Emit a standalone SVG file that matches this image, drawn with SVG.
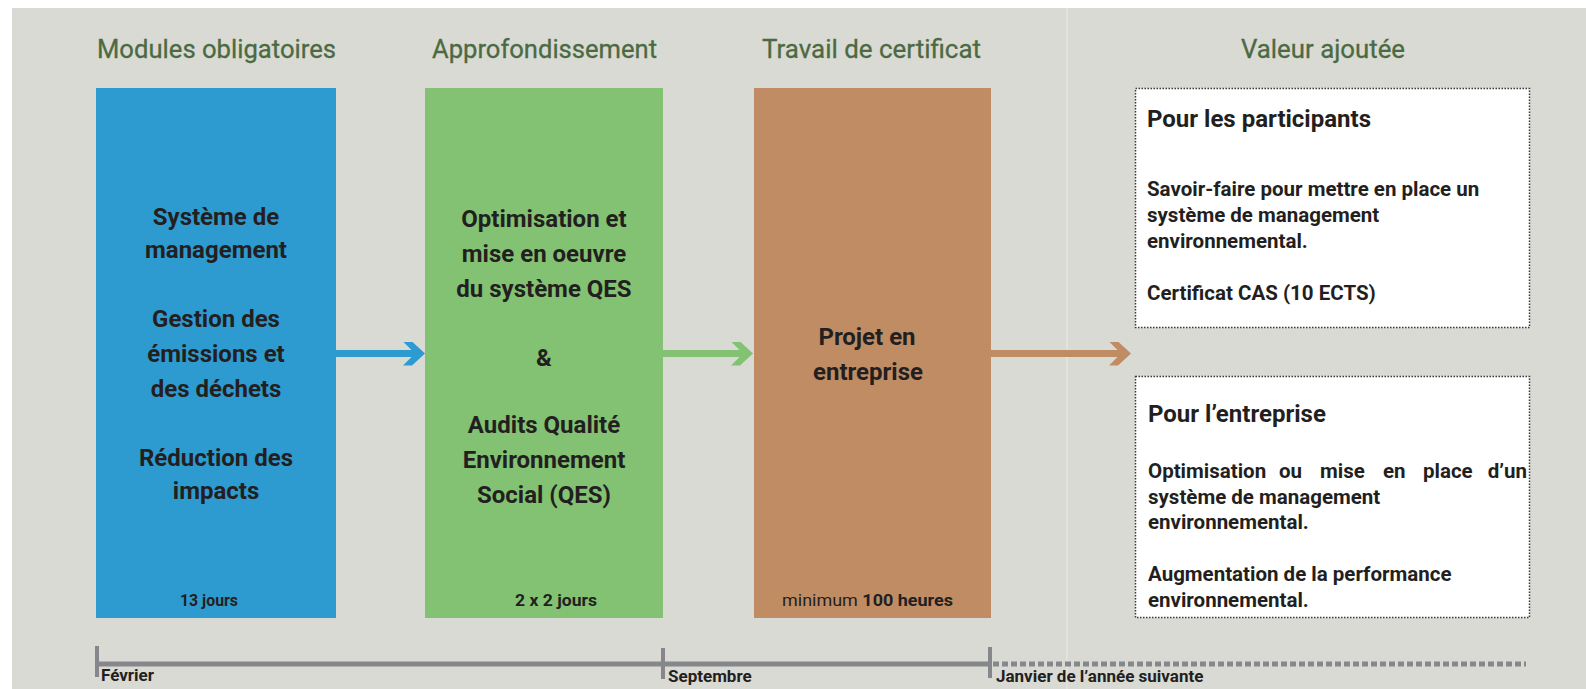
<svg xmlns="http://www.w3.org/2000/svg" width="1586" height="689" viewBox="0 0 1586 689">
<style>
  .head { font-family: Roboto, "Liberation Sans", sans-serif; font-size: 26px; fill: #4c6a42; text-anchor: middle; stroke: #4c6a42; stroke-width: 0.3; }
  .bt { font-family: Roboto, "Liberation Sans", sans-serif; font-size: 24px; font-weight: bold; fill: #231f20; text-anchor: middle; }
  .small { font-family: Roboto, "Liberation Sans", sans-serif; font-size: 17px; font-weight: bold; fill: #231f20; }
  .ttl { font-family: Roboto, "Liberation Sans", sans-serif; font-size: 24px; font-weight: bold; fill: #231f20; }
  .body { font-family: Roboto, "Liberation Sans", sans-serif; font-size: 20.5px; font-weight: bold; fill: #231f20; }
  .wbox { fill: #ffffff; stroke: #3a3a3a; stroke-width: 1.5; stroke-dasharray: 1.5 1.5; }
  .shaft { fill: none; stroke-width: 7; }
  .tl { stroke: #86878b; fill: none; stroke-width: 5; }
</style>
<defs>
  <marker id="chev-blue" viewBox="0 0 22 24" refX="12" refY="12" markerWidth="22" markerHeight="24" markerUnits="userSpaceOnUse" orient="auto">
    <polygon points="0,0 9,0 22,12 9,24 0,24 12,12" fill="#2e9bd0"/>
  </marker>
  <marker id="chev-green" viewBox="0 0 22 24" refX="12" refY="12" markerWidth="22" markerHeight="24" markerUnits="userSpaceOnUse" orient="auto">
    <polygon points="0,0 9,0 22,12 9,24 0,24 12,12" fill="#82c272"/>
  </marker>
  <marker id="chev-brown" viewBox="0 0 22 24" refX="12" refY="12" markerWidth="22" markerHeight="24" markerUnits="userSpaceOnUse" orient="auto">
    <polygon points="0,0 9,0 22,12 9,24 0,24 12,12" fill="#c08c63"/>
  </marker>
</defs>

<rect x="0" y="0" width="1586" height="689" fill="#ffffff"/>
<rect x="12" y="8" width="1574" height="681" fill="#d9dad4"/>
<line x1="1067" y1="8" x2="1067" y2="689" stroke="#e4e5e0" stroke-width="1.5"/>

<g id="headings">
  <text class="head" x="216.5" y="58" textLength="239" lengthAdjust="spacingAndGlyphs">Modules obligatoires</text>
  <text class="head" x="544.5" y="58" textLength="225" lengthAdjust="spacingAndGlyphs">Approfondissement</text>
  <text class="head" x="871.5" y="58" textLength="219" lengthAdjust="spacingAndGlyphs">Travail de certificat</text>
  <text class="head" x="1323" y="58" textLength="164" lengthAdjust="spacingAndGlyphs">Valeur ajoutée</text>
</g>

<g id="connectors">
  <path class="shaft" stroke="#2e9bd0" d="M336 353.5 H415" marker-end="url(#chev-blue)"/>
  <path class="shaft" stroke="#82c272" d="M663 353.5 H743" marker-end="url(#chev-green)"/>
  <path class="shaft" stroke="#c08c63" d="M991 353.5 H1121" marker-end="url(#chev-brown)"/>
</g>

<g id="node-modules">
  <rect x="96" y="88" width="240" height="530" fill="#2e9bd0"/>
  <text class="bt" x="216" y="225">Système de</text>
  <text class="bt" x="216" y="258">management</text>
  <text class="bt" x="216" y="327">Gestion des</text>
  <text class="bt" x="216" y="362">émissions et</text>
  <text class="bt" x="216" y="397">des déchets</text>
  <text class="bt" x="216" y="466">Réduction des</text>
  <text class="bt" x="216" y="499">impacts</text>
  <text class="small" x="209" y="606" text-anchor="middle" textLength="58" lengthAdjust="spacingAndGlyphs">13 jours</text>
</g>

<g id="node-approfondissement">
  <rect x="425" y="88" width="238" height="530" fill="#82c272"/>
  <text class="bt" x="544" y="227">Optimisation et</text>
  <text class="bt" x="544" y="262">mise en oeuvre</text>
  <text class="bt" x="544" y="297">du système QES</text>
  <text class="bt" x="544" y="366">&amp;</text>
  <text class="bt" x="544" y="433">Audits Qualité</text>
  <text class="bt" x="544" y="468">Environnement</text>
  <text class="bt" x="544" y="503">Social (QES)</text>
  <text class="small" x="556" y="606" text-anchor="middle" textLength="82" lengthAdjust="spacingAndGlyphs">2 x 2 jours</text>
</g>

<g id="node-travail">
  <rect x="754" y="88" width="237" height="530" fill="#c08c63"/>
  <text class="bt" x="867" y="345">Projet en</text>
  <text class="bt" x="868" y="380">entreprise</text>
  <text class="small" x="867.5" y="606" text-anchor="middle" textLength="171" lengthAdjust="spacingAndGlyphs"><tspan font-weight="normal">minimum </tspan>100 heures</text>
</g>

<g id="node-participants">
  <rect class="wbox" x="1135.5" y="88.5" width="394" height="239"/>
  <text class="ttl" x="1147" y="127">Pour les participants</text>
  <text class="body" x="1147" y="196">Savoir-faire pour mettre en place un</text>
  <text class="body" x="1147" y="222">système de management</text>
  <text class="body" x="1147" y="248">environnemental.</text>
  <text class="body" x="1147" y="300">Certificat CAS (10 ECTS)</text>
</g>

<g id="node-entreprise">
  <rect class="wbox" x="1135.5" y="376.5" width="394" height="241"/>
  <text class="ttl" x="1148" y="422">Pour l’entreprise</text>
  <text class="body" y="478"><tspan x="1148">Optimisation</tspan><tspan x="1279">ou</tspan><tspan x="1320">mise</tspan><tspan x="1383">en</tspan><tspan x="1423">place</tspan><tspan x="1527" text-anchor="end">d’un</tspan></text>
  <text class="body" x="1148" y="504">système de management</text>
  <text class="body" x="1148" y="529">environnemental.</text>
  <text class="body" x="1148" y="581">Augmentation de la performance</text>
  <text class="body" x="1148" y="607">environnemental.</text>
</g>

<g id="timeline">
  <path class="tl" d="M96 664 H990"/>
  <path class="tl" d="M993 664 H1526" stroke-dasharray="6 3"/>
  <rect x="95" y="646" width="4" height="31" fill="#86878b"/>
  <rect x="661" y="648" width="4" height="31" fill="#86878b"/>
  <rect x="988" y="647" width="4" height="31" fill="#86878b"/>
  <text class="small" x="101" y="681" font-size="18">Février</text>
  <text class="small" x="668" y="682" font-size="18">Septembre</text>
  <text class="small" x="996" y="682" font-size="18">Janvier de l’année suivante</text>
</g>
</svg>
